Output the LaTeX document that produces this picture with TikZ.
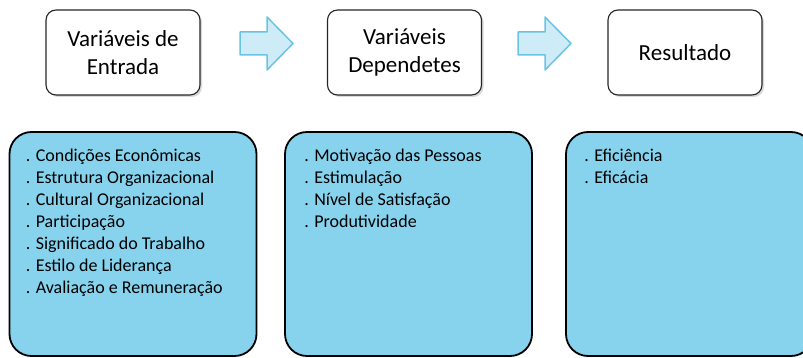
\documentclass[tikz,border=0pt]{standalone}
\usepackage{fontspec}
\setmainfont{Carlito}
\usetikzlibrary{shadows,positioning}
\definecolor{caixaazul}{RGB}{135,211,238}
\definecolor{setafundo}{RGB}{206,236,248}
\definecolor{setaborda}{RGB}{105,195,228}
\tikzstyle{titulo}=[rectangle, draw=black!85
%,fill=black!5
,line width=1.1pt, rounded corners=10pt, fill=white
,minimum width=154pt, minimum height=85pt, align=center
,drop shadow={shadow xshift=2pt, shadow yshift=-2pt, opacity=.3}
,font=\fontsize{23}{28}\selectfont
]
\tikzstyle{lista}=[rectangle, draw=black, line width=1.8pt, rounded corners=22pt
,fill=caixaazul, minimum width=247pt, minimum height=224pt
]
\tikzstyle{itens}=[anchor=north west, inner sep=0pt, align=left, font=\fontsize{18}{22}\selectfont]
\tikzstyle{seta} = [draw=setaborda, line width=1.5pt, fill=setafundo, line join=round]

\begin{document}
\begin{tikzpicture}[x=1pt,y=-1pt]
    \useasboundingbox (0,0) rectangle (803,358);
    % First we draw the title boxes
    \foreach \pos/\name/\texto in {{(123,52.5)/entrada/Vari\'aveis de\\Entrada}, {(404.5,52.5)/dependentes/Vari\'aveis\\Dependetes}, {(685,52.5)/resultado/Resultado}}
        \node[titulo] (\name) at \pos {\texto};

    % Arrows between the titles
    \foreach \x in {240,518}
        \path[seta] (\x,32) -- ++(27,0) -- ++(0,-15) -- ++(26,26.5) -- ++(-26,26.5) -- ++(0,-15) -- ++(-27,0) -- cycle;

    % Then the blue boxes with the lists
    \node[lista] (caixaA) at (133,244) {};
    \node[lista] (caixaB) at (408.5,244) {};
    \node[lista] (caixaC) at (689.5,244) {};

    \node[itens] (listaA) at ([xshift=17pt,yshift=-18pt]caixaA.north west)
        {. Condi\c{c}\~oes Econ\^omicas\\. Estrutura Organizacional\\. Cultural Organizacional\\. Participa\c{c}\~ao\\. Significado do Trabalho\\. Estilo de Lideran\c{c}a\\. Avalia\c{c}\~ao e Remunera\c{c}\~ao};
    \node[itens] (listaB) at ([xshift=20pt,yshift=-18pt]caixaB.north west)
        {. Motiva\c{c}\~ao das Pessoas\\. Estimula\c{c}\~ao\\. N\'{\i}vel de Satisfa\c{c}\~ao\\. Produtividade};
    \node[itens] (listaC) at ([xshift=19pt,yshift=-18pt]caixaC.north west)
        {. Efici\^encia\\. Efic\'acia};
\end{tikzpicture}
\end{document}
